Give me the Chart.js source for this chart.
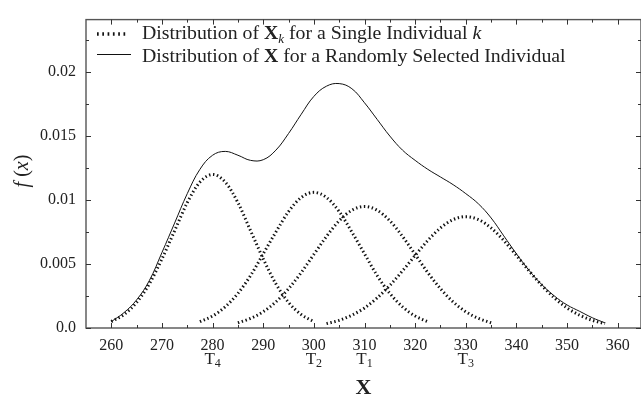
<!DOCTYPE html>
<html><head><meta charset="utf-8">
<script src="https://cdn.jsdelivr.net/npm/chart.js@4"></script>
<style>html,body{margin:0;padding:0;background:#fff}#wrap{position:relative;width:641px;height:395px}</style>
</head><body><div id="wrap"><canvas id="c" width="641" height="395"></canvas></div>
<script>
// ---- data ----
const xSolid = [260,262.5,265,267.5,270,272.5,275,277.5,280,282.5,285,287.5,290,292.5,295,297.5,300,302.5,305,307.5,310,312.5,315,317.5,320,322.5,325,327.5,330,332.5,335,337.5,340,342.5,345,347.5,350,352.5,355,357.5];
const ySolid = [0.0005,0.0012,0.0022,0.0037,0.0059,0.0082,0.0105,0.0124,0.0135,0.0138,0.0135,0.0131,0.01315,0.0139,0.0152,0.0167,0.0181,0.0189,0.0191,0.0187,0.0176,0.0163,0.0150,0.0139,0.0131,0.0124,0.0118,0.0112,0.0105,0.0097,0.0086,0.0072,0.0058,0.0045,0.0034,0.0025,0.0018,0.0013,0.0008,0.0004];

const xT4 = [260,262.5,265,267.5,270,272.5,275,277.5,280,282.5,285,287.5,290,292.5,295,297.5,300];
const yT4 = [0.0005,0.00105,0.0020,0.00345,0.0054,0.0076,0.0098,0.0114,0.0120,0.0114,0.0098,0.0076,0.0054,0.00345,0.0020,0.00105,0.0005];

const xT2 = [277.5,280,282.5,285,287.5,290,292.5,295,297.5,300,302.5,305,307.5,310,312.5,315,317.5,320,322.5];
const yT2 = [0.00049,0.00094,0.00166,0.0027,0.0041,0.0058,0.0075,0.0091,0.0102,0.0106,0.0102,0.0091,0.0075,0.0058,0.0041,0.0027,0.00166,0.00094,0.00049];

const xT1 = [285,287.5,290,292.5,295,297.5,300,302.5,305,307.5,310,312.5,315,317.5,320,322.5,325,327.5,330,332.5,335];
const yT1 = [0.00041,0.00075,0.00127,0.00204,0.00307,0.00433,0.00575,0.00716,0.00838,0.0092,0.0095,0.0092,0.00838,0.00716,0.00575,0.00433,0.00307,0.00204,0.00127,0.00075,0.00041];

const xT3 = [302.5,305,307.5,310,312.5,315,317.5,320,322.5,325,327.5,330,332.5,335,337.5,340,342.5,345,347.5,350,352.5,355,357.5];
const yT3 = [0.00034,0.0006,0.001,0.00157,0.00235,0.00333,0.00446,0.00567,0.00684,0.00782,0.00847,0.0087,0.00847,0.00782,0.00684,0.00567,0.00446,0.00333,0.00235,0.00157,0.001,0.0006,0.00034];

const xTickValues = [260,270,280,290,300,310,320,330,340,350,360];
const xTickLabels = ['260','270','280','290','300','310','320','330','340','350','360'];
const yTickValues = [0,0.005,0.01,0.015,0.02];
const yTickLabels = ['0.0','0.005','0.01','0.015','0.02'];
const subTickValues = [280,300,310,330];
const subTickIndex = ['4','2','1','3'];

const SERIF = '"Liberation Serif","Times New Roman",serif';
const TXT = '#222';
const DOT = {width:3, dash:[1.4,2.6]};

function pts(xs, ys){ return xs.map((x,i)=>({x:x, y:ys[i]})); }

function drawRuns(ctx, x, y, runs, align){
  let w = 0;
  runs.forEach(r=>{ ctx.font = r.font; w += ctx.measureText(r.t).width; });
  let cx = align==='center' ? x - w/2 : x;
  runs.forEach(r=>{ ctx.font = r.font; ctx.fillText(r.t, cx, y + (r.dy||0)); cx += ctx.measureText(r.t).width; });
}

const decor = {
  id:'decor',
  afterDraw(chart){
    const ctx = chart.ctx, a = chart.chartArea, sx = chart.scales.x, sy = chart.scales.y;
    ctx.save();
    // frame
    ctx.strokeStyle = '#555'; ctx.lineWidth = 1.4; ctx.setLineDash([]);
    ctx.strokeRect(a.left, a.top, a.right - a.left, a.bottom - a.top);
    // inward ticks
    ctx.lineWidth = 1; ctx.strokeStyle = '#333';
    ctx.beginPath();
    for (let v = 260; v <= sx.max; v += 5){
      const p = Math.round(sx.getPixelForValue(v)) + 0.5;
      const L = (v % 10 === 0) ? 5 : 3;
      ctx.moveTo(p, a.bottom); ctx.lineTo(p, a.bottom - L);
      ctx.moveTo(p, a.top); ctx.lineTo(p, a.top + L);
    }
    for (let k = 0; k * 0.0025 <= sy.max; k++){
      const v = k * 0.0025;
      const p = Math.round(sy.getPixelForValue(v)) + 0.5;
      const L = (k % 2 === 0) ? 5 : 3;
      ctx.moveTo(a.left, p); ctx.lineTo(a.left + L, p);
      ctx.moveTo(a.right, p); ctx.lineTo(a.right - L, p);
    }
    ctx.stroke();

    ctx.fillStyle = TXT; ctx.textBaseline = 'alphabetic';
    // T_k labels
    subTickValues.forEach((v,i)=>{
      const px = sx.getPixelForValue(v);
      drawRuns(ctx, px, 364, [
        {t:'T', font:'17px '+SERIF},
        {t:subTickIndex[i], font:'12px '+SERIF, dy:3}
      ], 'center');
    });
    // x title
    ctx.font = 'bold 22px ' + SERIF; ctx.textAlign = 'center';
    ctx.fillText('X', (a.left + a.right)/2, 394);
    ctx.textAlign = 'left';
    // y title
    ctx.save();
    ctx.translate(28, 171); ctx.rotate(-Math.PI/2);
    drawRuns(ctx, 0, 0, [
      {t:'f', font:'italic 20px '+SERIF},
      {t:' (', font:'20px '+SERIF},
      {t:'x', font:'italic 20px '+SERIF},
      {t:')', font:'20px '+SERIF}
    ], 'center');
    ctx.restore();

    // legend
    ctx.strokeStyle = '#111';
    ctx.lineWidth = 3.3; ctx.setLineDash([1.7, 3.6]);
    ctx.beginPath(); ctx.moveTo(97, 34); ctx.lineTo(127, 34); ctx.stroke();
    ctx.setLineDash([]); ctx.lineWidth = 1;
    ctx.beginPath(); ctx.moveTo(97, 54.5); ctx.lineTo(131, 54.5); ctx.stroke();
    const F = '19.8px ' + SERIF, FB = 'bold 19.8px ' + SERIF, FI = 'italic 19.8px ' + SERIF;
    drawRuns(ctx, 142, 39, [
      {t:'Distribution of ', font:F},
      {t:'X', font:FB},
      {t:'k', font:'italic 13px '+SERIF, dy:4},
      {t:' for a Single Individual ', font:F},
      {t:'k', font:FI}
    ]);
    drawRuns(ctx, 142, 62, [
      {t:'Distribution of ', font:F},
      {t:'X', font:FB},
      {t:' for a Randomly Selected Individual', font:F}
    ]);
    ctx.restore();
  }
};

function dotted(xs, ys){
  return {data:pts(xs,ys), borderColor:'#111', borderWidth:DOT.width, borderDash:DOT.dash, borderCapStyle:'butt',
          pointRadius:0, cubicInterpolationMode:'monotone', fill:false};
}

new Chart(document.getElementById('c').getContext('2d'), {
  type:'line',
  data:{datasets:[
    {data:pts(xSolid,ySolid), borderColor:'#111', borderWidth:1, pointRadius:0, tension:0.4, fill:false},
    dotted(xT4,yT4), dotted(xT2,yT2), dotted(xT1,yT1), dotted(xT3,yT3)
  ]},
  options:{
    responsive:false, animation:false, events:[],
    layout:{padding:{top:15,left:0,right:0,bottom:0}},
    plugins:{legend:{display:false}, tooltip:{enabled:false}},
    scales:{
      x:{type:'linear', min:255, max:364.6,
         afterFit(s){ s.height = 67; },
         grid:{display:false, drawTicks:false}, border:{display:false},
         ticks:{stepSize:10, includeBounds:false, autoSkip:false, maxRotation:0, padding:8, color:TXT,
                font:{family:SERIF, size:16},
                callback:(v)=>{ const i = xTickValues.indexOf(v); return i>=0 ? xTickLabels[i] : ''; }}},
      y:{type:'linear', min:0, max:0.0241,
         afterFit(s){ s.width = 86; },
         grid:{display:false, drawTicks:false}, border:{display:false},
         ticks:{stepSize:0.005, includeBounds:false, padding:10, color:TXT,
                font:{family:SERIF, size:16},
                callback:(v)=>{ const i = yTickValues.findIndex(t=>Math.abs(t-v)<1e-9); return i>=0 ? yTickLabels[i] : ''; }}}
    }
  },
  plugins:[decor]
});
</script></body></html>
